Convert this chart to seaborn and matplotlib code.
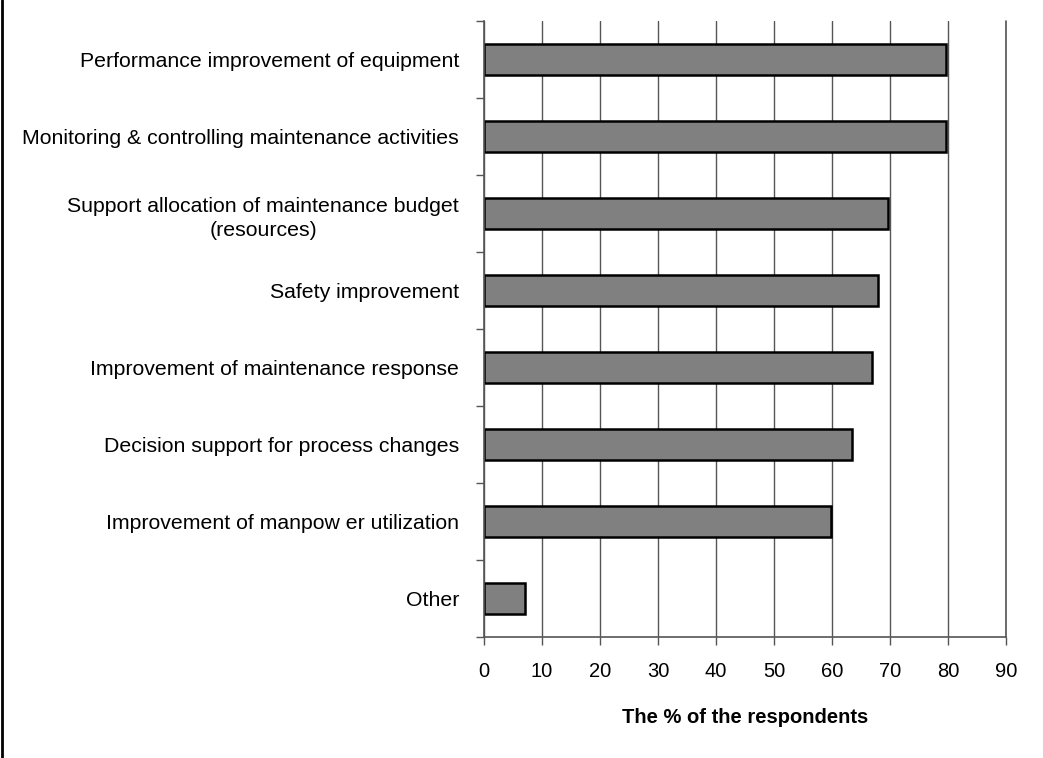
import seaborn as sns
import numpy as np
import matplotlib.pyplot as plt
import pandas as pd
from matplotlib.lines import Line2D

categories = [
    "Performance improvement of equipment",
    "Monitoring & controlling maintenance activities",
    "Support allocation of maintenance budget\n(resources)",
    "Safety improvement",
    "Improvement of maintenance response",
    "Decision support for process changes",
    "Improvement of manpow er utilization",
    "Other",
]
percent = [79.6, 79.6, 69.6, 67.9, 66.9, 63.4, 59.8, 7.0]
xticks = [0, 10, 20, 30, 40, 50, 60, 70, 80, 90]

df = pd.DataFrame({"category": categories, "percent": percent})

sns.set_style("white")
plt.rcParams['font.family'] = ['Liberation Sans', 'DejaVu Sans']
plt.rcParams['text.color'] = 'black'
plt.rcParams['axes.labelcolor'] = 'black'
plt.rcParams['xtick.color'] = 'black'
plt.rcParams['ytick.color'] = 'black'

fig = plt.figure(figsize=(10.43, 7.58), dpi=100)
ax = fig.add_axes([0.464, 0.16, 0.5005, 0.812])

sns.barplot(data=df, x="percent", y="category", orient="h", color="#808080",
            saturation=1, edgecolor="black", linewidth=1.8, width=0.40, ax=ax)

ax.set_xlim(0, 90)
ax.set_ylim(len(categories) - 0.5, -0.5)
ax.set_xticks(xticks)
ax.set_xticklabels([str(t) for t in xticks], fontsize=14.5)
ax.xaxis.grid(True, color="#555555", linewidth=1)
ax.axvline(90, color="#555555", linewidth=1.2, clip_on=False, zorder=0)
ax.set_axisbelow(True)

# y tick marks at category boundaries, labels at centers
ax.set_yticks(np.arange(len(categories)))
ax.set_yticklabels(categories, fontsize=15.3)
ax.set_yticks(np.arange(len(categories) + 1) - 0.5, minor=True)
ax.tick_params(axis="y", which="major", left=False, length=0, pad=18)
ax.tick_params(axis="y", which="minor", left=True, length=6, width=1, color="#555555", direction="out")
ax.tick_params(axis="x", bottom=True, length=6, width=1, color="#555555", direction="out", pad=12)
for lab in ax.get_yticklabels():
    lab.set_multialignment("center")
    lab.set_linespacing(1.35)

for s in ["top", "right"]:
    ax.spines[s].set_visible(False)
for s in ["left", "bottom"]:
    ax.spines[s].set_color("#555555")
    ax.spines[s].set_linewidth(1.2)

ax.set_ylabel("")
ax.set_xlabel("The % of the respondents", fontsize=14.5, fontweight="bold", labelpad=20)

fig.add_artist(Line2D([0.0015, 0.0015], [0, 1], transform=fig.transFigure, color="black", linewidth=2))

fig.savefig("out.png", dpi=100)
